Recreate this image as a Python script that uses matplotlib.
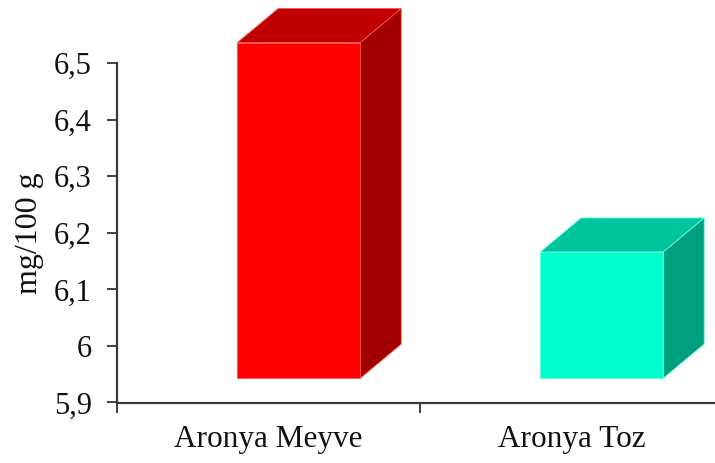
import matplotlib
matplotlib.use("Agg")
import matplotlib.pyplot as plt
from matplotlib.patches import Polygon
from matplotlib.ticker import FixedLocator, NullFormatter

# Data
categories = ["Aronya Meyve", "Aronya Toz"]
values = [6.536, 6.166]
y_ticks = [5.9, 6.0, 6.1, 6.2, 6.3, 6.4, 6.5]
y_tick_labels = ["5,9", "6", "6,1", "6,2", "6,3", "6,4", "6,5"]
y_label = "mg/100 g"

# 3D box styling (front, top, side colours)
front_colors = ["#ff0000", "#00ffcc"]
top_colors = ["#c00000", "#00c49c"]
side_colors = ["#a00000", "#00a07f"]
edge_colors = ["#ff5050", "#60ffe0"]
base = 5.943        # floor level of the boxes
face_offset = 0.10  # shift of front face to the right of the category centre
face_width = 0.406
depth_dx = 0.135
depth_dy = 0.0602

plt.rcParams["font.family"] = ["Liberation Serif", "DejaVu Serif"]

fig = plt.figure(figsize=(7.15, 4.63), dpi=100)
ax = fig.add_axes([117 / 715, (463 - 402.5) / 463, (715 - 117) / 715, (402.5 - 63) / 463])

for i, v in enumerate(values):
    x0 = i + face_offset - face_width / 2
    x1 = x0 + face_width
    top = Polygon([(x0, v), (x1, v), (x1 + depth_dx, v + depth_dy), (x0 + depth_dx, v + depth_dy)],
                  closed=True, facecolor=top_colors[i], edgecolor=edge_colors[i], lw=0.6,
                  clip_on=False, zorder=2)
    side = Polygon([(x1, base), (x1 + depth_dx, base + depth_dy), (x1 + depth_dx, v + depth_dy), (x1, v)],
                   closed=True, facecolor=side_colors[i], edgecolor=edge_colors[i], lw=0.6,
                   clip_on=False, zorder=2)
    ax.add_patch(top)
    ax.add_patch(side)
    ax.bar(i + face_offset, v - base, width=face_width, bottom=base, color=front_colors[i],
           edgecolor=edge_colors[i], linewidth=0.6, zorder=3, clip_on=False)

ax.set_xlim(-0.5, (715 - 268.5) / 303)
ax.set_ylim(5.9, 6.5)

ax.set_yticks(y_ticks)
ax.set_yticklabels(y_tick_labels)
ax.tick_params(axis="y", direction="out", length=7, width=1.3, color="#333333",
               labelsize=22, pad=11, labelcolor="#111111")

ax.xaxis.set_major_locator(FixedLocator([-0.5, 0.5, 1.5]))
ax.xaxis.set_major_formatter(NullFormatter())
ax.xaxis.set_minor_locator(FixedLocator(range(len(categories))))
ax.set_xticks(range(len(categories)), labels=categories, minor=True)
ax.tick_params(axis="x", which="major", direction="out", length=7, width=1.3, color="#333333")
ax.tick_params(axis="x", which="minor", length=0, labelsize=22.5, pad=16, labelcolor="#111111")

for s in ["top", "right"]:
    ax.spines[s].set_visible(False)
for s in ["left", "bottom"]:
    ax.spines[s].set_color("#3a3a3a")
    ax.spines[s].set_linewidth(1.6)

fig.text(30 / 715, 1 - 233 / 463, y_label, rotation=90, ha="center", va="center",
         fontsize=23, color="#111111")

fig.savefig("out.png", dpi=100)
